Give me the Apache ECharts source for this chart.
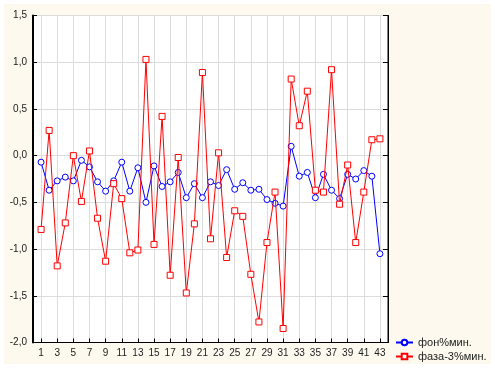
<!DOCTYPE html>
<html>
<head>
<meta charset="utf-8">
<script src="https://cdn.jsdelivr.net/npm/echarts@6/dist/echarts.min.js"></script>
<style>html,body{margin:0;padding:0;background:#fff;}#c{width:495px;height:368px;}</style>
</head>
<body>
<div id="c"></div>
<script>
const xLabels = ['1','2','3','4','5','6','7','8','9','10','11','12','13','14','15','16','17','18','19','20','21','22','23','24','25','26','27','28','29','30','31','32','33','34','35','36','37','38','39','40','41','42','43'];
const seriesNames = ['фон%мин.', 'фаза-3%мин.'];
const fonValues = [-0.07,-0.37,-0.27,-0.23,-0.27,-0.05,-0.12,-0.28,-0.38,-0.27,-0.07,-0.38,-0.13,-0.50,-0.11,-0.33,-0.28,-0.18,-0.45,-0.30,-0.45,-0.28,-0.32,-0.15,-0.36,-0.29,-0.37,-0.36,-0.47,-0.51,-0.54,0.10,-0.22,-0.18,-0.45,-0.20,-0.37,-0.46,-0.20,-0.25,-0.16,-0.22,-1.05];
const fazaValues = [-0.79,0.27,-1.18,-0.72,0.00,-0.49,0.05,-0.67,-1.13,-0.30,-0.46,-1.04,-1.01,1.03,-0.95,0.42,-1.28,-0.02,-1.47,-0.73,0.89,-0.89,0.03,-1.09,-0.59,-0.65,-1.27,-1.78,-0.93,-0.39,-1.85,0.82,0.32,0.69,-0.37,-0.39,0.92,-0.52,-0.10,-0.93,-0.39,0.17,0.18];
const yTicks = {min: -2, max: 1.5, interval: 0.5};

// padded category axis so that the axis extends one step beyond first/last point
const cats = [''].concat(xLabels, ['']);
const pad = arr => [null].concat(arr, [null]);
const oddIdx = (i) => i >= 1 && i <= xLabels.length && (i % 2 === 1);
const fmtY = v => v.toFixed(1).replace('.', ',');

const chart = echarts.init(document.getElementById('c'), null, {renderer: 'canvas'});
chart.setOption({
  animation: false,
  backgroundColor: '#ffffff',
  textStyle: {fontFamily: 'Liberation Sans, Arial, sans-serif'},
  graphic: [{
    type: 'rect', z: -10, silent: true,
    shape: {x: 4, y: 4, width: 487, height: 360},
    style: {fill: '#FDF9EE'}
  }],
  grid: {
    left: 33, top: 15.5, right: 107, bottom: 25.5,
    show: true, backgroundColor: '#ffffff', borderColor: '#000', borderWidth: 1
  },
  legend: {
    orient: 'vertical', left: 395, top: 337, bottom: 0,
    itemWidth: 17, itemHeight: 7, itemGap: 3, padding: 0,
    selectedMode: false,
    textStyle: {fontSize: 11, color: '#222', fontFamily: 'Liberation Sans, Arial, sans-serif'},
    data: seriesNames
  },
  xAxis: {
    type: 'category', boundaryGap: false, data: cats,
    axisLine: {onZero: false, lineStyle: {color: '#000', width: 1}},
    axisTick: {inside: true, length: 4, interval: oddIdx, lineStyle: {color: '#000'}},
    axisLabel: {interval: oddIdx, fontSize: 10, color: '#222', margin: 6},
    splitLine: {show: true, interval: oddIdx, lineStyle: {color: '#dcdcdc', width: 1}}
  },
  yAxis: [{
    type: 'value', min: yTicks.min, max: yTicks.max, interval: yTicks.interval,
    axisLine: {show: true, lineStyle: {color: '#000', width: 2}},
    axisTick: {show: true, inside: true, length: 4, lineStyle: {color: '#000'}},
    axisLabel: {formatter: fmtY, fontSize: 10, color: '#222', margin: 6},
    splitLine: {show: true, lineStyle: {color: '#dcdcdc', width: 1}}
  }, {
    type: 'value', position: 'right', min: yTicks.min, max: yTicks.max, interval: yTicks.interval,
    axisLine: {show: true, lineStyle: {color: '#000', width: 1}},
    axisTick: {show: true, inside: true, length: 5, lineStyle: {color: '#000'}},
    axisLabel: {show: false},
    splitLine: {show: false}
  }],
  series: [{
    name: seriesNames[0], type: 'line', data: pad(fonValues),
    symbol: 'circle', symbolSize: 6, showAllSymbol: true, silent: true,
    emphasis: {disabled: true},
    lineStyle: {color: '#0000FF', width: 1},
    itemStyle: {color: '#ffffff', borderColor: '#0000FF', borderWidth: 1},
    z: 3
  }, {
    name: seriesNames[1], type: 'line', data: pad(fazaValues),
    symbol: 'rect', symbolSize: 6, showAllSymbol: true, silent: true,
    emphasis: {disabled: true},
    lineStyle: {color: '#FF0000', width: 1},
    itemStyle: {color: '#ffffff', borderColor: '#FF0000', borderWidth: 1},
    z: 4
  }]
});
</script>
</body>
</html>
